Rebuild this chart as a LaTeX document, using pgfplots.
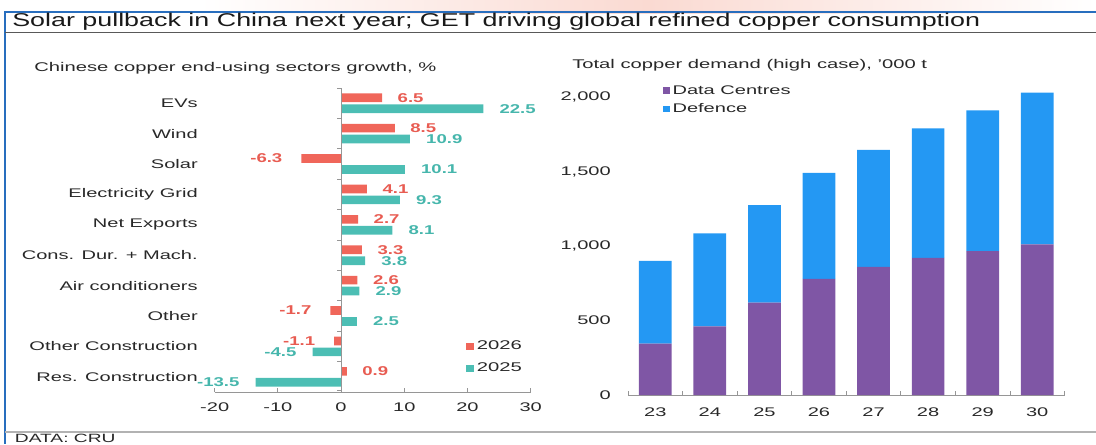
\documentclass[border=0pt]{standalone}
\usepackage{pgfplots}
\pgfplotsset{compat=1.18}
\usepackage{pgfplotstable}
\usepackage{fontspec}
\setmainfont{Liberation Sans}[FakeStretch=1.6]
\newfontfamily\lblfont{Liberation Sans}[FakeStretch=1.45]
\newfontfamily\ttlfont{Liberation Sans}[FakeStretch=1.45]
\definecolor{cRed}{RGB}{240,102,90}
\definecolor{cTeal}{RGB}{76,190,180}
\definecolor{cRedT}{RGB}{232,92,82}
\definecolor{cTealT}{RGB}{70,182,172}
\definecolor{cPurple}{RGB}{127,86,165}
\definecolor{cBlue}{RGB}{36,152,243}
\definecolor{cFrame}{RGB}{40,110,190}
\definecolor{cTxt}{RGB}{40,40,40}
\definecolor{cAx}{RGB}{150,150,150}

% 2026 growth, % (split by sign for label placement)
\pgfplotstableread{
y x
9 6.5
8 8.5
6 4.1
5 2.7
4 3.3
3 2.6
0 0.9
}\tabApos
\pgfplotstableread{
y x
7 -6.3
2 -1.7
1 -1.1
}\tabAneg
% 2025 growth, %
\pgfplotstableread{
y x
9 22.5
8 10.9
7 10.1
6 9.3
5 8.1
4 3.8
3 2.9
2 2.5
}\tabBpos
\pgfplotstableread{
y x
1 -4.5
0 -13.5
}\tabBneg
% total copper demand, '000 t
\pgfplotstableread{
x dc def
23 345 555
24 460 625
25 620 655
26 780 710
27 860 785
28 920 870
29 965 945
30 1010 1020
}\tabC

\begin{document}
\begin{tikzpicture}
\path[use as bounding box] (0,0) rectangle (822pt,333pt);
\clip (0,0) rectangle (822pt,333pt);
% top pink watermark
\shade[left color=white, right color=white, middle color={rgb,255:red,250;green,218;blue,210}] (150pt,323pt) rectangle (822pt,333pt);
% frame
\draw[cFrame, line width=1.5pt] (3.75pt,324pt) -- (822pt,324pt);
\draw[cFrame, line width=1.5pt] (3.75pt,324.7pt) -- (3.75pt,0pt);
\draw[black!65, line width=1pt] (3.75pt,308.5pt) -- (822pt,308.5pt);
\draw[black!30, line width=0.8pt] (3.75pt,9pt) -- (822pt,9pt);
\node[anchor=west, inner sep=0pt, text=black!90, font=\ttlfont\fontsize{13.9}{15}\selectfont] at (9pt,316.5pt) {Solar pullback in China next year; GET driving global refined copper consumption};
\node[anchor=base west, inner sep=0pt, text=cTxt, font=\fontsize{9}{11}\selectfont] at (11pt,1pt) {DATA: CRU};
% subtitles
\node[anchor=west, inner sep=0pt, text=cTxt, font=\fontsize{9.47}{11}\selectfont] at (25.5pt,282pt) {Chinese copper end-using sectors growth, \%};
\node[anchor=west, inner sep=0pt, text=cTxt, font=\fontsize{9.47}{11}\selectfont] at (429pt,284.25pt) {Total copper demand (high case), '000 t};

% left chart
\begin{axis}[
  at={(161pt,39pt)}, anchor=south west, scale only axis,
  width=237pt, height=228pt,
  xbar, bar width=6.5pt,
  xmin=-20, xmax=30, ymin=-0.5, ymax=9.5,
  axis x line=bottom, axis y line=left,
  x axis line style={-, draw=cAx, line width=0.6pt},
  y axis line style={draw=none},
  xtick={-20,-10,...,30},
  x tick style={draw=cAx, line width=0.6pt},
  major tick length=3pt, tick align=inside,
  ytick={0,...,9},
  yticklabels={Res. Construction, Other Construction, Other, Air conditioners, {Cons. Dur. + Mach.}, Net Exports, Electricity Grid, Solar, Wind, EVs},
  y tick style={draw=none},
  yticklabel style={anchor=east, inner sep=0pt, xshift=-12.5pt, text=cTxt, font=\fontsize{9.4}{11}\selectfont},
  xticklabel style={text=cTxt, font=\fontsize{9.4}{11}\selectfont, yshift=-4.5pt},
  /pgf/number format/assume math mode=true,
  legend style={at={(0.795,0.178)}, anchor=north west, draw=none, fill=none, inner sep=0pt, row sep=4.5pt,
     font=\fontsize{9.5}{12}\selectfont, text=cTxt, cells={anchor=west}},
  legend image code/.code={\fill[#1] (0pt,-2.6pt) rectangle (6pt,2.6pt);},
  clip=false,
]
\addplot[fill=cRed, draw=none, bar shift=4.1pt, point meta=x,
  nodes near coords={\pgfmathprintnumber[fixed,precision=1,fixed zerofill]{\pgfplotspointmeta}},
  every node near coord/.append style={anchor=west, xshift=11.5pt, inner sep=0pt, text=cRedT, font=\lblfont\bfseries\fontsize{9.6}{11}\selectfont}]
  table[x=x,y=y] {\tabApos};
\addplot[fill=cTeal, draw=none, bar shift=-4.1pt, point meta=x,
  nodes near coords={\pgfmathprintnumber[fixed,precision=1,fixed zerofill]{\pgfplotspointmeta}},
  every node near coord/.append style={anchor=west, xshift=12pt, inner sep=0pt, text=cTealT, font=\lblfont\bfseries\fontsize{9.6}{11}\selectfont}]
  table[x=x,y=y] {\tabBpos};
\addplot[forget plot, fill=cRed, draw=none, bar shift=4.1pt, point meta=x,
  nodes near coords={\pgfmathprintnumber[fixed,precision=1,fixed zerofill]{\pgfplotspointmeta}},
  every node near coord/.append style={anchor=east, xshift=-14pt, inner sep=0pt, text=cRedT, font=\lblfont\bfseries\fontsize{9.6}{11}\selectfont}]
  table[x=x,y=y] {\tabAneg};
\addplot[forget plot, fill=cTeal, draw=none, bar shift=-4.1pt, point meta=x,
  nodes near coords={\pgfmathprintnumber[fixed,precision=1,fixed zerofill]{\pgfplotspointmeta}},
  every node near coord/.append style={anchor=east, xshift=-12pt, inner sep=0pt, text=cTealT, font=\lblfont\bfseries\fontsize{9.6}{11}\selectfont}]
  table[x=x,y=y] {\tabBneg};
\legend{2026,2025}
\draw[cAx, line width=0.6pt] (axis cs:0,-0.45) -- (axis cs:0,9.5);
\pgfplotsinvokeforeach{-0.45,0.5,1.5,2.5,3.5,4.5,5.5,6.5,7.5,8.5,9.5}{
  \draw[cAx, line width=0.6pt] (axis cs:0,#1) -- ++(-3pt,0pt);
}
\end{axis}

% right chart
\begin{axis}[
  at={(471pt,36.75pt)}, anchor=south west, scale only axis,
  width=327.4pt, height=234.7pt,
  ybar stacked, bar width=0.6,
  xmin=22.5, xmax=30.5, ymin=0, ymax=2100,
  axis x line=bottom, axis y line=left,
  x axis line style={-, draw=cAx, line width=0.6pt},
  y axis line style={draw=none},
  xtick={23,...,30},
  major x tick style={draw=none},
  minor xtick={22.5,23.5,...,30.5},
  minor x tick style={draw=cAx, line width=0.6pt},
  minor tick length=3pt, tick align=inside,
  ytick={0,500,...,2000},
  y tick style={draw=none},
  yticklabel style={anchor=east, inner sep=0pt, xshift=-12.75pt, text=cTxt, font=\fontsize{9.4}{11}\selectfont,
     /pgf/number format/1000 sep={,}},
  xticklabel style={text=cTxt, font=\fontsize{9.4}{11}\selectfont, yshift=-6pt},
  /pgf/number format/assume math mode=true,
  legend style={at={(0.08,0.999)}, anchor=north west, draw=none, fill=none, inner sep=0pt, row sep=1.5pt,
     font=\fontsize{9.4}{12}\selectfont, text=cTxt, cells={anchor=west}},
  legend image code/.code={\fill[#1] (0pt,-2.5pt) rectangle (5pt,2.5pt);},
  clip=false,
]
\addplot[fill=cPurple, draw=none] table[x=x,y=dc] {\tabC};
\addplot[fill=cBlue, draw=none] table[x=x,y=def] {\tabC};
\legend{Data Centres, Defence}
\end{axis}
\end{tikzpicture}
\end{document}
